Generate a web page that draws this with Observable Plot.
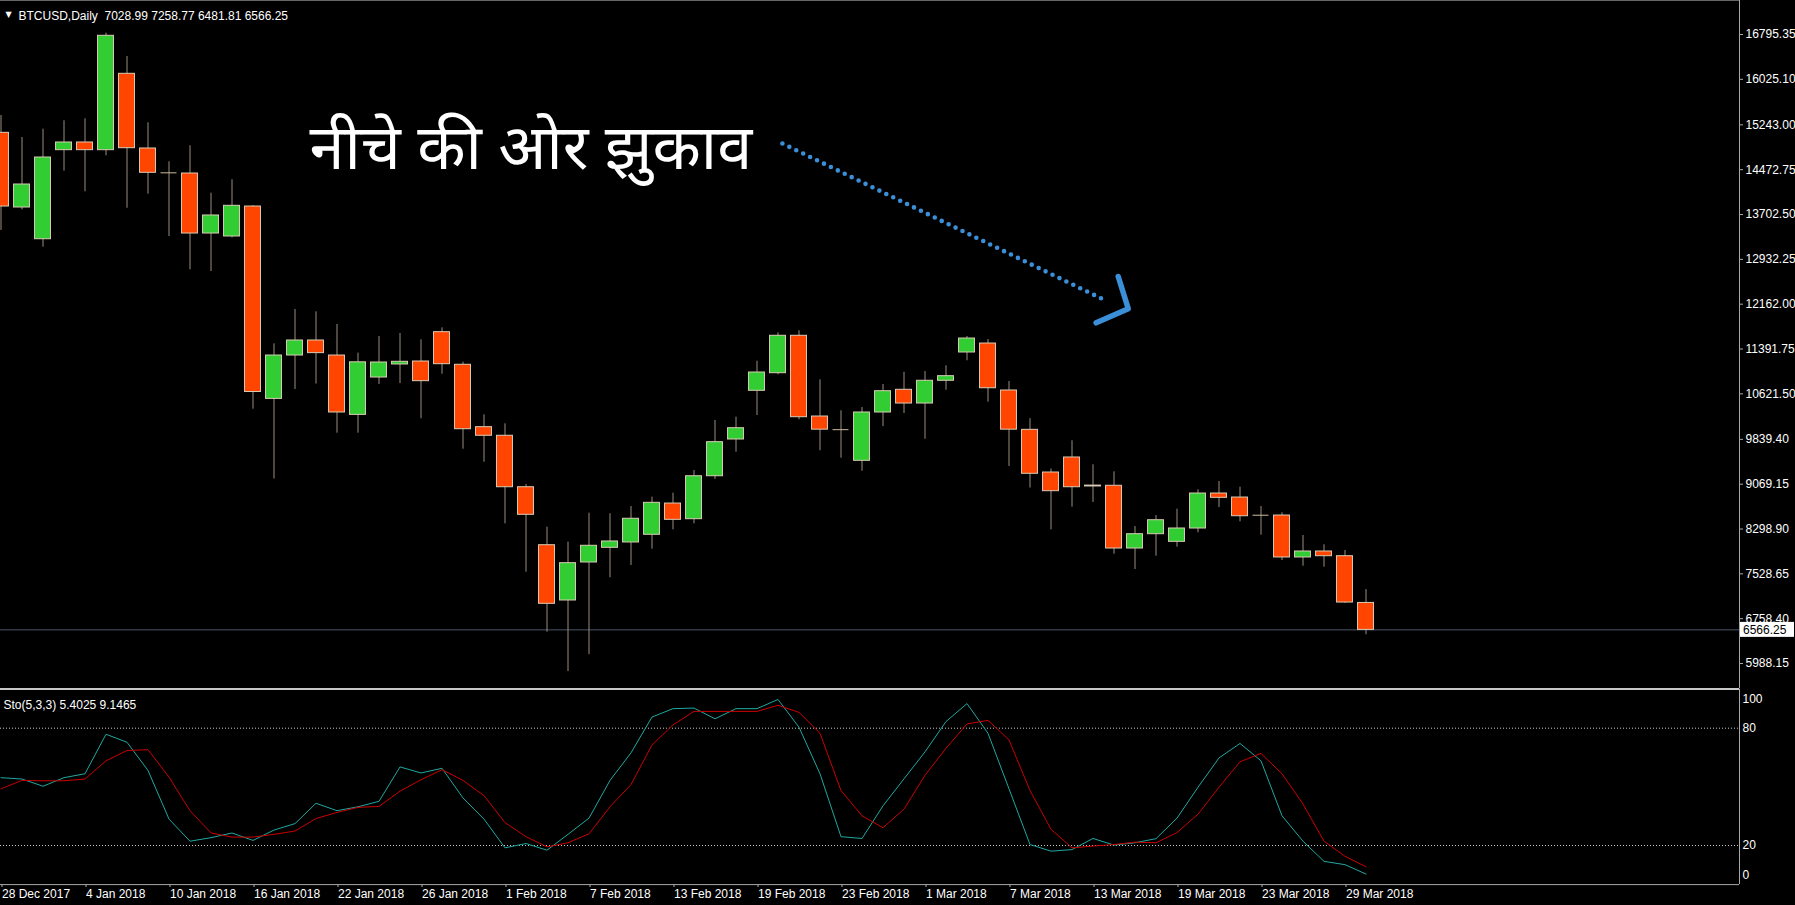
<!DOCTYPE html>
<html><head><meta charset="utf-8">
<script src="https://cdn.jsdelivr.net/npm/d3@7"></script>
<script src="https://cdn.jsdelivr.net/npm/@observablehq/plot@0.6"></script>
<style>
html,body{margin:0;padding:0;background:#000;}
#chart{width:1795px;height:905px;overflow:hidden;background:#000;}
#chart svg{display:block;}
</style></head><body><div id="chart"></div>
<script>
// ---- data ----
const symbolName = "BTCUSD,Daily";
const open = [15106,13823,13278,14808,14940,14808,16120,14837,14419,14407,
  13376,13325,13840,10535,11280,11538,11280,10260,10902,11126,
  11177,11681,11121,10049,9901,9017,8021,7071,7724,7976,
  8068,8200,8737,8468,9206,9837,10674,10976,11619,10232,
  10006,9471,10301,10691,10455,10846,11332,11486,10679,10003,
  9270,9528,9030,9042,7964,8210,8079,8308,8909,8840,
  8536,8531,7810,7913,7832,7028.99];
const high = [15404,15026,15168,15313,15347,16818,16417,15278,14608,14883,
  14069,14299,13857,11480,12071,12030,11813,11321,11607,11658,
  11550,11756,11165,10261,10107,9064,8330,8073,8571,8561,
  8686,8846,8914,9304,10164,10220,11182,11670,11705,10863,
  10331,10387,10782,10993,11005,11103,11607,11555,10834,10195,
  9330,9815,9402,9282,8342,8531,8640,8973,9115,9017,
  8686,8578,8188,8028,7930,7258.77];
const low = [13428,13783,13141,14447,14093,14711,13811,14052,13325,12753,
  12723,13300,10358,9158,10696,10791,9945,9945,10782,10799,
  10193,10959,9670,9447,8389,7557,6526,5851,6140,7461,
  7672,7952,8285,8389,9150,9619,10249,10949,10175,9643,
  9516,9292,10060,10284,9841,10684,11189,10478,9373,9004,
  8285,8674,8755,7866,7603,7832,7987,8234,8669,8423,
  8193,7758,7660,7643,7020,6481.81];
const close = [13840,14218,14682,14940,14808,16773,14842,14419,14419,13376,
  13686,13852,10653,11280,11538,11321,10301,11163,11160,11172,
  10839,11131,10014,9901,9017,8543,7014,7712,8011,8085,
  8475,8749,8457,9206,9791,10031,10988,11619,10220,10006,
  10006,10301,10667,10455,10846,10925,11572,10718,10006,9248,
  8949,9017,9045,7964,8210,8450,8308,8909,8835,8519,
  8536,7810,7913,7832,7036,6566.25];
const stoK = [54.7,54,50.3,54.7,56.7,76.9,72.8,58.4,33.5,22.2,
  24,26.4,22.6,27.9,31.2,41.6,37.8,39.8,42.6,60.2,
  57.1,59.5,44.3,33.5,18.8,21,17.6,25.7,34,53.3,
  67.4,85.7,90,90.3,84.8,90,90,94.7,80.5,56.7,
  24.5,23.6,40.3,54.1,67.9,83.4,92.6,77.4,49,20.5,
  17.1,17.9,23.6,20.2,21.4,23.5,34,49.8,64.8,72.2,
  63.3,35.2,22.2,11.9,10.2,5.4025];
const stoD = [49,53.3,53.1,53.1,54,63.3,68.6,69,55,37.8,
  26.4,24.3,24.3,25.7,27.4,33.8,36.9,39.5,40,47.8,
  53.6,58.8,53.3,45.5,31.7,24.5,19.3,21.4,26,39.8,
  51.2,71.4,81.7,88.6,88.6,88.6,88.6,91.7,88.1,77.4,
  48.1,35.2,29.1,38.6,55.9,69.7,82.2,84,74,48.1,
  28.3,18.8,19.7,20.5,21.7,21.4,26.6,36,49.8,62.8,
  67.1,56.7,41.2,22.2,14.5,9.1465];
const priceTicks = [16795.35,16025.10,15243.00,14472.75,13702.50,12932.25,12162.00,11391.75,10621.50,9839.40,9069.15,8298.90,7528.65,6758.40,5988.15];
const stoTicks = [100,80,20,0];
const stoLevels = [80,20];
const dateBars = [0,4,8,12,16,20,24,28,32,36,40,44,48,52,56,60,64];
const dateLabels = ["28 Dec 2017","4 Jan 2018","10 Jan 2018","16 Jan 2018","22 Jan 2018","26 Jan 2018","1 Feb 2018","7 Feb 2018","13 Feb 2018","19 Feb 2018","23 Feb 2018","1 Mar 2018","7 Mar 2018","13 Mar 2018","19 Mar 2018","23 Mar 2018","29 Mar 2018"];
const noteText = "नीचे की ओर झुकाव";
const notePos = [{bar: 14.69, price: 14830}];
const arrowLine = [{bar: 37.21, price: 14923}, {bar: 52.4, price: 12260}];
const arrowHead = [{bar: 53.2, price: 12637}, {bar: 53.68, price: 12083}, {bar: 52.15, price: 11842}];

// ---- build ----
const bars = open.map((o, i) => ({i, open: o, high: high[i], low: low[i], close: close[i]}));
const last = bars[bars.length - 1];
const stoRows = stoK.map((k, i) => ({i, k, d: stoD[i]}));
const W = 1795, MR = 56, PX = 21;
const xDomain = [-0.5 / PX, (W - MR - 0.5) / PX];
const yDomain = [5559, 17379.5];
const half = 0.38;
const font = "'Liberation Sans', Arial, sans-serif";
const baseStyle = {background: "#000", color: "#fff", fontFamily: font, fontSize: "12px", overflow: "visible"};
const upC = "#32cd32", dnC = "#ff4500", wickC = "#9b8d7e", edgeC = "#d9cbb5", axisC = "#a8a8a8";
const f2 = v => v.toFixed(2);

const priceBox = (index, scales, values, dims) => {
  const g = d3.create("svg:g");
  const y = scales.y(last.close);
  const x0 = dims.width - dims.marginRight + 1;
  g.append("rect").attr("x", x0).attr("y", y - 7.5).attr("width", 54).attr("height", 15).attr("fill", "#fff");
  g.append("text").attr("x", x0 + 3).attr("y", y).attr("dy", "0.35em").attr("fill", "#000")
    .attr("text-anchor", "start").attr("font-family", font).attr("font-size", 12).text(f2(last.close));
  return g.node();
};

const main = Plot.plot({
  width: W, height: 688, marginLeft: 0, marginRight: MR, marginTop: 0, marginBottom: 0,
  style: baseStyle,
  x: {domain: xDomain, axis: null},
  y: {domain: yDomain, axis: null},
  marks: [
    Plot.ruleY([last.close], {stroke: "#4a5866", strokeWidth: 1}),
    Plot.ruleX(bars, {x: "i", y1: "low", y2: "high", stroke: wickC}),
    Plot.rect(bars.filter(d => d.open !== d.close), {
      x1: d => d.i - half, x2: d => d.i + half, y1: "open", y2: "close",
      fill: d => d.close > d.open ? upC : dnC, stroke: edgeC, strokeWidth: 1
    }),
    Plot.ruleY(bars.filter(d => d.open === d.close), {y: "open", x1: d => d.i - half, x2: d => d.i + half, stroke: "#cdbb9d"}),
    Plot.ruleX([xDomain[1]], {stroke: axisC}),
    Plot.ruleY([yDomain[1]], {stroke: "#666"}),
    Plot.axisY({anchor: "right", ticks: priceTicks, tickFormat: f2, tickSize: 3, tickPadding: 3, label: null, fill: "#fff", stroke: axisC, fontSize: 12}),
    priceBox,
    Plot.text(["▼"], {frameAnchor: "top-left", dx: 5, dy: 10.5, fontSize: 8, fill: "#fff", fontFamily: "DejaVu Sans"}),
    Plot.text([`${symbolName}  ${f2(last.open)} ${f2(last.high)} ${f2(last.low)} ${f2(last.close)}`],
      {frameAnchor: "top-left", dx: 18, dy: 10.5, textAnchor: "start", fill: "#fff", fontSize: 12}),
    Plot.text(notePos, {x: "bar", y: "price", text: () => noteText, textAnchor: "start", fill: "#fff", fontSize: 63,
      fontFamily: "'Noto Sans Devanagari','Noto Sans','Lohit Devanagari',sans-serif"}),
    Plot.line(arrowLine, {x: "bar", y: "price", stroke: "#3b8fd9", strokeWidth: 4.6, strokeDasharray: "0 7.7", strokeLinecap: "round"}),
    Plot.line(arrowHead, {x: "bar", y: "price", stroke: "#3b8fd9", strokeWidth: 5.5, strokeLinecap: "round", strokeLinejoin: "round"})
  ]
});

const sto = Plot.plot({
  width: W, height: 217, marginLeft: 0, marginRight: MR, marginTop: 0.6, marginBottom: 20.9,
  style: baseStyle,
  x: {domain: xDomain, axis: null},
  y: {domain: [0, 100], axis: null},
  marks: [
    Plot.ruleY(stoLevels, {stroke: "#c8c8c8", strokeDasharray: "1,2"}),
    Plot.line(stoRows, {x: "i", y: "k", stroke: "#20a8a0", strokeWidth: 1}),
    Plot.line(stoRows, {x: "i", y: "d", stroke: "#cc0000", strokeWidth: 1}),
    Plot.ruleY([100], {stroke: "#c8c8c8", strokeWidth: 2}),
    Plot.ruleY([0], {stroke: axisC}),
    Plot.ruleX([xDomain[1]], {stroke: axisC}),
    Plot.text(stoTicks.filter(t => t === 80 || t === 20), {y: d => d, frameAnchor: "right", dx: 3, textAnchor: "start", fill: "#fff", fontSize: 12}),
    Plot.text(stoTicks.filter(t => t === 100), {y: d => d, frameAnchor: "right", dx: 3, dy: 10, textAnchor: "start", fill: "#fff", fontSize: 12}),
    Plot.text(stoTicks.filter(t => t === 0), {y: d => d, frameAnchor: "right", dx: 3, dy: -9, textAnchor: "start", fill: "#fff", fontSize: 12}),
    Plot.text([`Sto(5,3,3) ${stoK[stoK.length - 1].toFixed(4)} ${stoD[stoD.length - 1].toFixed(4)}`],
      {frameAnchor: "top-left", dx: 3, dy: 11.5, textAnchor: "start", fill: "#fff", fontSize: 12}),
    Plot.axisX({anchor: "bottom", ticks: dateBars, tickFormat: i => dateLabels[dateBars.indexOf(i)], tickSize: 3, tickPadding: 2,
      textAnchor: "start", dx: 1, label: null, fill: "#fff", stroke: axisC, fontSize: 12})
  ]
});

const root = document.getElementById("chart");
root.appendChild(main);
root.appendChild(sto);
</script>
</body></html>
